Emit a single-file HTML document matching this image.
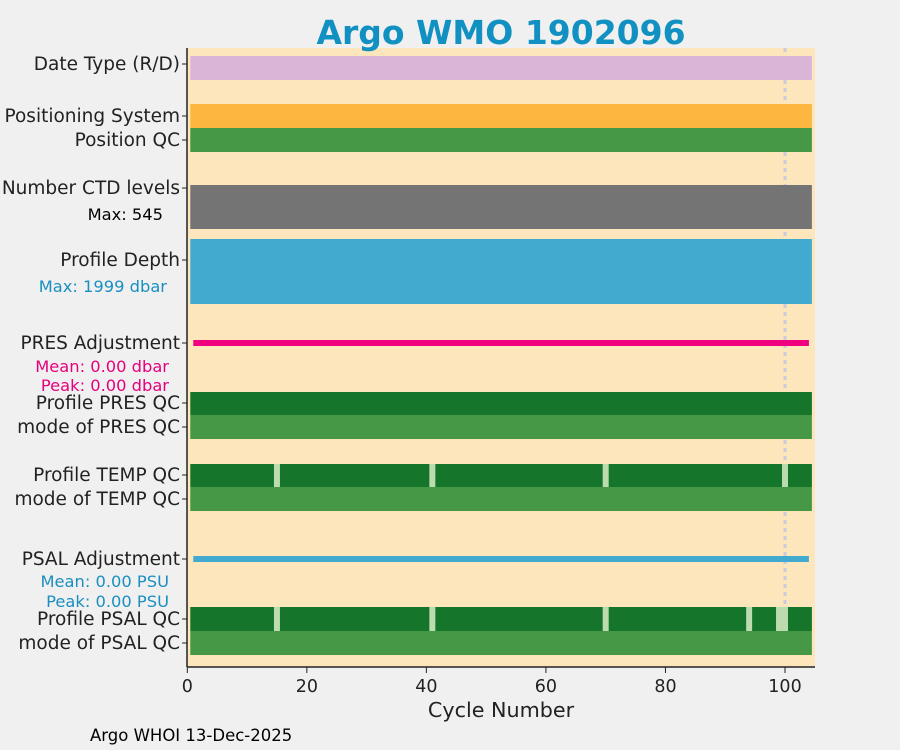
<!DOCTYPE html>
<html><head><meta charset="utf-8"><style>
body{margin:0;background:#f0f0f0;}
svg{display:block;font-family:"DejaVu Sans","Liberation Sans",sans-serif;}
</style></head><body>
<svg id="c" width="900" height="750" xmlns="http://www.w3.org/2000/svg">
<rect width="900" height="750" fill="#f0f0f0"/>
<rect x="187" y="48" width="628" height="619" fill="#fde6bb"/>
<text x="501" y="44" text-anchor="middle" font-size="33" font-weight="bold" fill="#1190c2">Argo WMO 1902096</text>
<g id="marks"></g>
<line x1="187" y1="48" x2="187" y2="667" stroke="#222" stroke-width="1.5"/>
<line x1="187" y1="667" x2="815" y2="667" stroke="#222" stroke-width="1.5"/>
<g id="xticks"></g>
<g id="ylabels" font-size="18.5" fill="#222" text-anchor="end"></g>
<text x="501" y="717" text-anchor="middle" font-size="20.7" fill="#222">Cycle Number</text>
<text x="90" y="741" font-size="16.5" fill="#000">Argo WHOI 13-Dec-2025</text>
<text x="163" y="220" text-anchor="end" font-size="16.3" fill="#000">Max: 545</text>
<text x="167" y="292" text-anchor="end" font-size="16.3" fill="#1a8fc0">Max: 1999 dbar</text>
<text x="169" y="372" text-anchor="end" font-size="16.3" fill="#e6007e">Mean: 0.00 dbar</text>
<text x="169" y="391" text-anchor="end" font-size="16.3" fill="#e6007e">Peak: 0.00 dbar</text>
<text x="169" y="587" text-anchor="end" font-size="16.3" fill="#1a8fc0">Mean: 0.00 PSU</text>
<text x="169" y="607" text-anchor="end" font-size="16.3" fill="#1a8fc0">Peak: 0.00 PSU</text>
</svg>
<script>
const nCycles = 104;
const xTicks = [0, 20, 40, 60, 80, 100];
const tempBadCycles = [15, 41, 70, 100];
const psalBadCycles = [15, 41, 70, 94, 99, 100];
const presAdjMean = 0.00;
const psalAdjMean = 0.00;
const markedCycle = 100;
const rowLabels = ["Date Type (R/D)","Positioning System","Position QC","Number CTD levels","Profile Depth","PRES Adjustment","Profile PRES QC","mode of PRES QC","Profile TEMP QC","mode of TEMP QC","PSAL Adjustment","Profile PSAL QC","mode of PSAL QC"];
const rowY = [64,116,140,188,260,343,403,427,475,499,559,619,643];

const NS = "http://www.w3.org/2000/svg";
const x = v => 187.3 + v * 5.977;
function mk(tag, attrs, parent){const e=document.createElementNS(NS,tag);for(const k in attrs)e.setAttribute(k,attrs[k]);parent.appendChild(e);return e;}
const marks = document.getElementById('marks');

let dl = mk('line',{x1:x(markedCycle),x2:x(markedCycle),y1:48,y2:605,stroke:'#c8cbe0','stroke-width':3,'stroke-dasharray':'4 4'},marks);



function band(name,y0,y1,color){
  const r = mk('rect',{x:x(0.5),y:y0,width:x(nCycles+0.5)-x(0.5),height:y1-y0,fill:color},marks);
  
  
}
band('date-type-bar',56,80,'#dab5d8');
band('positioning-system-bar',104,128,'#fdb63f');
band('position-qc-bar',128,152,'#469846');
band('ctd-levels-bar',185,229,'#747474');
band('profile-depth-bar',239,304,'#42aacf');
band('profile-pres-qc-bar',392,415,'#15762b');
band('mode-pres-qc-bar',415,439,'#469846');
band('profile-temp-qc-bar',464,487,'#15762b');
band('mode-temp-qc-bar',487,511,'#469846');
band('profile-psal-qc-bar',607,631,'#15762b');
band('mode-psal-qc-bar',631,655,'#469846');

function gaps(list,y0,y1,name){
  list.forEach(c=>{
    const r = mk('rect',{x:x(c-0.5),y:y0,width:x(c+0.5)-x(c-0.5),height:y1-y0,fill:'#bcdcb0'},marks);
    
    
  });
}
gaps(tempBadCycles,464,487,'temp-qc-flagged-cycle');
gaps(psalBadCycles,607,631,'psal-qc-flagged-cycle');

function adjLine(name,yc,mean,color){
  const y = yc - mean*10;
  const l = mk('line',{x1:x(1),x2:x(nCycles),y1:y,y2:y,stroke:color,'stroke-width':6},marks);
  
  
}
adjLine('pres-adjustment-line',343,presAdjMean,'#f0007f');
adjLine('psal-adjustment-line',559,psalAdjMean,'#42aacf');

const xt = document.getElementById('xticks');
xTicks.forEach(t=>{
  const l = mk('line',{x1:x(t),x2:x(t),y1:667,y2:673,stroke:'#222','stroke-width':1},xt);
  
  
  const s = mk('text',{x:x(t),y:692,'text-anchor':'middle','font-size':17.5,fill:'#222'},xt);
  s.textContent = t;
  
  
});
const yl = document.getElementById('ylabels');
rowLabels.forEach((lab,i)=>{
  const l = mk('line',{x1:182,x2:187,y1:rowY[i],y2:rowY[i],stroke:'#222','stroke-width':1},yl);
  
  
  const s = mk('text',{x:180,y:rowY[i]+6},yl);
  s.textContent = lab;
  
  
});
</script>
</body></html>
